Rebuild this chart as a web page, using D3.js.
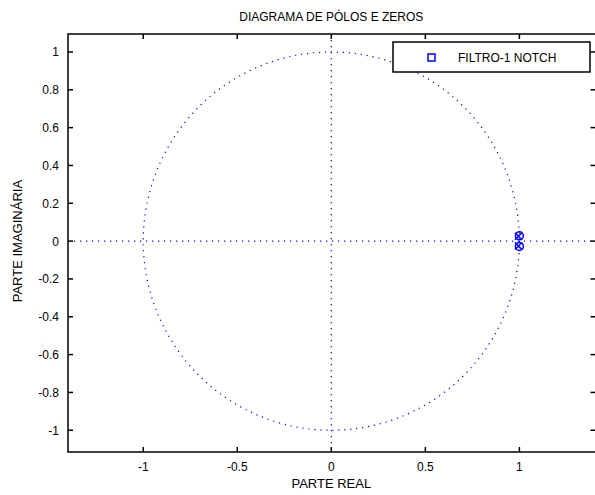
<!DOCTYPE html>
<html><head><meta charset="utf-8">
<script src="https://cdn.jsdelivr.net/npm/d3@7"></script>
<style>body{margin:0;background:#fff}svg{display:block}text{font-family:"Liberation Sans",Arial,sans-serif;fill:#000}</style>
</head><body><svg id="c" width="595" height="495"></svg>
<script>
const title = "DIAGRAMA DE PÓLOS E ZEROS";
const xLabel = "PARTE REAL";
const yLabel = "PARTE IMAGINÁRIA";
const legendLabel = "FILTRO-1 NOTCH";
const xTicks = [-1, -0.5, 0, 0.5, 1];
const yTicks = [-1, -0.8, -0.6, -0.4, -0.2, 0, 0.2, 0.4, 0.6, 0.8, 1];
const zerosRe = [1.0, 1.0];
const zerosIm = [0.028, -0.028];
const polesRe = [0.995, 0.995];
const polesIm = [0.026, -0.026];
const xDomain = [-1.4, 1.41];
const yDomain = [-1.115, 1.095];

const svg = d3.select("#c");
const L = 68, R = 596.5, T = 34, B = 452;
const x = d3.scaleLinear().domain(xDomain).range([L, R]);
const y = d3.scaleLinear().domain(yDomain).range([B, T]);
const blue = "#0000ff";

// unit circle and axes (dotted)
svg.append("ellipse").attr("cx", x(0)).attr("cy", y(0))
  .attr("rx", x(1) - x(0)).attr("ry", y(0) - y(1))
  .attr("fill", "none").attr("stroke", blue).attr("stroke-width", 1.2)
  .attr("stroke-dasharray", "1.2,4.8");
svg.append("line").attr("x1", L).attr("x2", R).attr("y1", y(0)).attr("y2", y(0))
  .attr("stroke", blue).attr("stroke-width", 1.2).attr("stroke-dasharray", "1.2,4.8");
svg.append("line").attr("x1", x(0)).attr("x2", x(0)).attr("y1", T).attr("y2", B)
  .attr("stroke", blue).attr("stroke-width", 1.2).attr("stroke-dasharray", "1.2,4.8");

// zeros
svg.selectAll(".z").data(zerosRe).join("circle")
  .attr("cx", (d) => x(d)).attr("cy", (d, i) => y(zerosIm[i])).attr("r", 4)
  .attr("fill", "none").attr("stroke", blue).attr("stroke-width", 1.5);
// poles
const pg = svg.selectAll(".p").data(polesRe).join("g")
  .attr("transform", (d, i) => `translate(${x(d)},${y(polesIm[i])})`);
pg.append("path").attr("d", "M-3.5,-3.5L3.5,3.5M-3.5,3.5L3.5,-3.5")
  .attr("stroke", blue).attr("stroke-width", 1.5);

// axes
const ax = svg.append("g").attr("stroke", "#000").attr("stroke-width", 1.5);
ax.append("rect").attr("x", L).attr("y", T).attr("width", R - L).attr("height", B - T).attr("fill", "none");
xTicks.forEach(t => {
  ax.append("line").attr("x1", x(t)).attr("x2", x(t)).attr("y1", B).attr("y2", B - 5);
  ax.append("line").attr("x1", x(t)).attr("x2", x(t)).attr("y1", T).attr("y2", T + 5);
});
yTicks.forEach(t => {
  ax.append("line").attr("x1", L).attr("x2", L + 5).attr("y1", y(t)).attr("y2", y(t));
  ax.append("line").attr("x1", R).attr("x2", R - 6).attr("y1", y(t)).attr("y2", y(t));
});
const fmt = d => String(d);
svg.selectAll(".xt").data(xTicks).join("text")
  .attr("x", d => x(d)).attr("y", B + 19).attr("text-anchor", "middle")
  .attr("font-size", 12).text(d => fmt(d));
svg.selectAll(".yt").data(yTicks).join("text")
  .attr("x", L - 9).attr("y", d => y(d) + 4.5).attr("text-anchor", "end")
  .attr("font-size", 12).text(d => fmt(d));

svg.append("text").attr("x", x(0)).attr("y", 21).attr("text-anchor", "middle")
  .attr("font-size", 12).text(title);
svg.append("text").attr("x", x(0)).attr("y", 488).attr("text-anchor", "middle")
  .attr("font-size", 13).text(xLabel);
svg.append("text").attr("transform", `translate(22,${y(0)}) rotate(-90)`)
  .attr("text-anchor", "middle").attr("font-size", 13).text(yLabel);

// legend
const lg = svg.append("g");
lg.append("rect").attr("x", 393).attr("y", 42).attr("width", 197).attr("height", 30)
  .attr("fill", "#fff").attr("stroke", "#000").attr("stroke-width", 1.5);
lg.append("rect").attr("x", 428).attr("y", 54).attr("width", 7).attr("height", 7)
  .attr("fill", "none").attr("stroke", blue).attr("stroke-width", 1.5);
lg.append("text").attr("x", 458).attr("y", 62).attr("font-size", 12).text(legendLabel);
</script></body></html>
